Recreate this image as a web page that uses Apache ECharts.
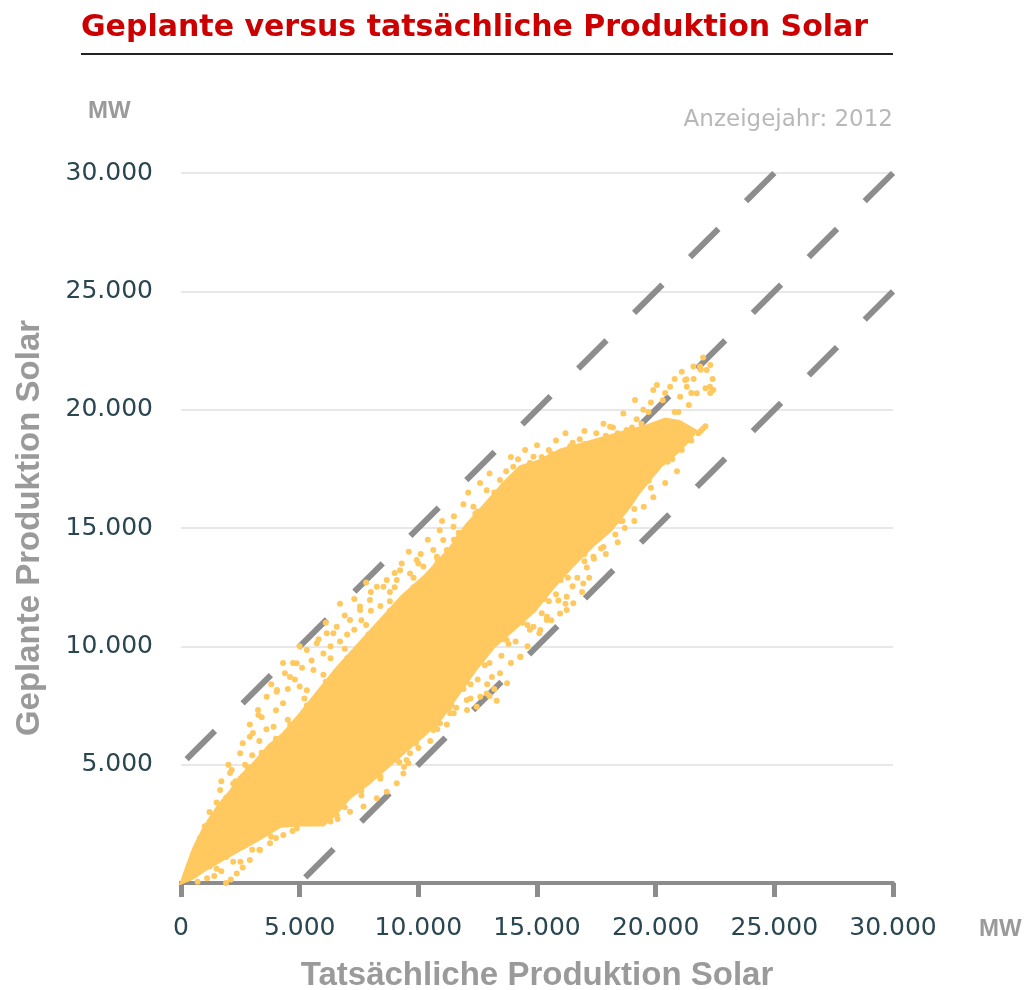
<!DOCTYPE html>
<html><head><meta charset="utf-8">
<script src="https://cdn.jsdelivr.net/npm/echarts@6/dist/echarts.min.js"></script>
<style>html,body{margin:0;padding:0;background:#fff;overflow:hidden}#c{width:1024px;height:990px}</style>
</head><body><div id="c"></div>
<script>
// ---------- texts ----------
const titleText = 'Geplante versus tatsächliche Produktion Solar';
const yearText = 'Anzeigejahr: 2012';
const unitText = 'MW';
const xAxisTitle = 'Tatsächliche Produktion Solar';
const yAxisTitle = 'Geplante Produktion Solar';

// ---------- axes ----------
const axisMin = 0, axisMax = 30000, axisStep = 5000;
const axisLineStart = -4200;           // x axis line extends left of 0
const bandOffsets = [5000, 0, -5000];  // planned = actual + offset

// ---------- data (MW) ----------
// dense core of the cloud (outline: lower edge left->right, upper edge right->left)
const coreOutline = [
  [0,0],[500,200],[1000,550],[1600,900],[2300,1300],[3200,1800],[4200,2400],[5000,2450],[6000,2450],
  [6500,2900],[7100,3600],[7900,4200],[8700,4900],[9500,5600],[10300,6300],[11000,7000],[11700,8000],
  [12400,9000],[13200,10000],[14000,10700],[14900,11500],[15700,12500],[16500,13400],[17400,14300],
  [18100,14900],[18900,15900],[19300,16500],[20200,17600],[20800,18100],[21400,18700],[21700,19100],
  [21000,19500],[20400,19600],[19600,19300],[18800,19100],[17400,18700],[16000,18300],[15000,17800],
  [14300,17600],[13600,16900],[12900,16100],[12000,15100],[11300,14100],[10300,13000],[9300,12100],
  [8300,11000],[7400,10000],[6500,9000],[5700,8000],[4900,7000],[4300,6300],[3700,5800],[3100,5100],
  [2600,4600],[2100,3900],[1600,3300],[1200,2700],[900,2200],[550,1500],[250,700],[60,150]
];
// scattered hours above the core
const upperFringe = [
  [1000,2400],[1650,3930],[2135,4770],[2490,5480],[2900,6180],[3260,7100],[3610,7870],[4030,8080],
  [4380,8860],[4875,9280],[5300,9840],[5720,10130],[6140,10550],[6560,10830],[7120,11110],[7545,11530],
  [7960,11960],[8530,12520],[9090,12800],[9650,13080],[10210,13370],[10780,13790],[11200,14070],
  [2065,4650],[3030,6340],[3245,7310],[4045,8150],[4590,8700],[4720,9300],
  [5300,8140],[5580,9000],[6420,10550],[7540,11680],[8250,12520],[8670,12800],[9230,13220],[9930,13650],
  [10630,14070],[11050,14490],[11480,15050],[12320,15900],[12880,16600],[13440,17030],[14000,17590],[14850,18010],
  [1800,3000],[2400,3900],[3100,4900],[3800,5800],[4500,6900],[5200,7800],[6000,8800],[6900,9900],
  [7800,10900],[8800,11900],[9800,12900],[10800,13700],[11700,14800],[12500,15700],[13300,16500],
  [14200,17900],[15500,18300],[16500,18600],[17500,19000],[1300,1900],[2600,4500],[3900,6600],[5000,8300],
  [6300,9500],[7000,10500],[8000,11500],[9000,12500],[10000,13500],[11500,14500],
  [500,1200],[700,1500],[800,1900],[1100,2100],[1300,2600],[1200,3000],[1600,2800],
  [1500,3400],[1900,3600],[2200,4200],[1700,4300],[2500,4400],[2000,5000],[2700,5000],[3000,5400],
  [2600,5900],[3300,6000],[3600,6500],[2900,6700],[3400,7000],[4000,7300],[4300,7600],
  [3800,8400],[4500,8200],[4800,8600],[5100,9100],[4300,9300],[5500,9400],[6000,9700],
  [5000,10000],[5800,10300],[6300,10000],[6700,10200],[6100,11000],[6900,11300],[7300,10700],[7600,11100],
  [6700,11800],[7300,12000],[8000,12300],[8400,11700],[7800,12700],[8800,12300],[9300,13500],[9000,13100],
  [9600,14000],[10100,13900],[10400,14500],[10900,14900],[11500,15500],[11000,15300],
  [11900,16000],[12100,16500],[12600,16900],[13000,17300],[13700,17400],[13900,18000],[14500,18300],
  [15000,18500],[15800,18700],[16200,19000],[17000,19100],[17800,19400],
  [15200,18000],[15600,18150],[16400,18450],[17000,18550],[17900,18900],[18400,19000],[19000,19250],
  [19400,19400],[14700,17750],[16800,18750],[18200,19250],
  [8800,11500],[9800,12500],[10800,13500],[11700,14600],[12400,15600],[13200,16500],[7900,10500],
  [7000,9500],[6100,8500],[5300,7500],[4600,6700],[4000,6100],[3400,5500],[2800,4900],[2300,4300]
];
// scattered hours at the upper right tip
const tipPoints = [
  [18080,19280],[18780,19140],[18640,19840],[19130,20410],[19480,20000],[19900,20830],[20050,21040],
  [20610,20970],[21030,20550],[20960,19900],[21240,21250],[21310,20970],[21730,20690],[21870,21820],
  [22150,21680],[22290,20970],[22430,20830],[21590,21820],[20300,20400],[19700,19900],
  [21300,21290],[21900,21690],[22300,21890],[21500,20700],[22100,20900],[22300,20700],
  [20700,17900],[21100,18300],[21500,18700],[21900,19100],[22100,19300],[21800,19000],[22000,19200],
  [19200,19600],[19800,20300],[20400,20700],[20800,21300],[21100,21600],[21600,21300],[22000,22200],
  [22400,21300],[21400,20200],[20800,19900]
];
// scattered hours below the core
const lowerFringe = [
  [17375,13790],[16950,12660],[16250,12100],[15970,11390],[15410,11110],[14850,10830],[14290,9560],
  [13720,10270],[13440,8860],[12880,8010],[12460,7450],[12040,7730],[11340,7170],[10910,6750],[10630,6460],
  [14300,9550],[15100,10550],[15900,11940],[16500,12540],[17100,13330],[17700,14130],[18300,14730],[16900,12300],
  [13000,7900],[13200,8200],[12900,8400],[13300,7700],
  [16530,11820],[16250,11530],[15420,11250],[15140,10690],[13740,8440],[12610,7870],[12050,7310],[11490,7170],
  [700,50],[1400,300],[1500,600],[2200,900],[3000,1400],[3800,1950],[6600,2700],[7600,3700],[8400,4400],
  [9200,5100],[10000,5700],[10800,6500],[11400,7500],[12200,8400],[13000,9300],[13800,10100],[14600,10900],
  [15500,11900],[16300,12900],[17000,13600],[17800,14200],[18600,15300],[19100,15800],[19800,16700],
  [10000,6400],[10500,6000],[10800,7000],[11200,6700],[11600,7400],[11900,8200],[12200,7800],[12500,8600],
  [12800,9200],[13100,8700],[13500,9600],[13900,9300],[14100,10200],[14600,10000],[14700,10700],[15200,11400],
  [15600,11100],[15800,12200],[16200,11800],[16700,12900],[17200,12900],[17400,13700],[17900,13900],
  [18400,14400],[18700,15000],[19100,15300],[19500,15900],[19900,16300],[20400,16900],[20900,17400],
  [1100,200],[1700,500],[2500,900],[3300,1400],[4000,1900],[4700,2200],
  [18500,15300],[19700,17000],[20500,17800],[21100,18500],[16000,12800],[17000,13900],[15300,12000],
  [14400,11000],[13600,10300],[12000,8500],
  [6300,2600],[6900,3200],[7600,3900],[8400,4500],[9100,5200],[9900,5900],[10700,6600],[11300,7400],
  [3600,2100],[2700,1600],[1900,1100],[1200,700]
];
// the separate line of points running below the cloud
const lowerTrail = [
  [1900,0],[2100,150],[2350,400],[2600,650],[2900,970],[3330,1390],[3750,1680],[4310,2030],[4880,2310],
  [5440,2520],[6000,2730],[6560,2870],[7120,3010],[7690,3230],[8250,3580],[8670,3860],[9090,4210],
  [9370,4630],[9580,5060],[9650,5480],[9500,5200],[9400,4900]
];

// ---------- style constants ----------
const dotColor = '#ffc960';
const guideColor = '#8d8d8d';
const axisColor = '#8c8c8c';
const labelColor = '#2a4650';
const nameColor = '#9a9a9a';

function fmt(v) {
  return String(v).replace(/\B(?=(\d{3})+(?!\d))/g, '.');
}

function bandLine(o) {
  const top = o >= 0 ? [axisMax - o, axisMax] : [axisMax, axisMax + o];
  const bottom = o >= 0 ? [axisMin, axisMin + o] : [axisMin - o, axisMin];
  return [top, bottom];
}

const chart = echarts.init(document.getElementById('c'), null, {renderer: 'canvas'});

const series = [];
series.push({
  type: 'line', data: [[axisLineStart, 0], [0, 0]], clip: false, symbol: 'none', silent: true,
  lineStyle: {color: axisColor, width: 4}, z: 1
});
bandOffsets.forEach(o => {
  series.push({
    type: 'line', data: bandLine(o), symbol: 'none', silent: true, clip: false,
    lineStyle: {color: guideColor, width: 6, type: [40, 39], cap: 'butt'}, z: 2
  });
});
series.push({
  type: 'custom', coordinateSystem: 'cartesian2d', silent: true, z: 3,
  data: [coreOutline[0]],
  renderItem: function (params, api) {
    const pts = coreOutline.map(p => api.coord(p));
    return {type: 'polygon', shape: {points: pts}, style: {fill: dotColor, stroke: dotColor, lineWidth: 3}};
  }
});
series.push({
  type: 'scatter', silent: true, z: 4, symbol: 'circle', symbolSize: 6,
  itemStyle: {color: dotColor, opacity: 1},
  data: upperFringe.concat(tipPoints, lowerFringe, lowerTrail)
});

chart.setOption({
  animation: false,
  backgroundColor: '#ffffff',
  title: [
    {text: titleText, left: 81, top: 13, padding: 0,
     textStyle: {fontFamily: 'DejaVu Sans', fontWeight: 'bold', fontSize: 30, color: '#cc0000'}},
    {text: yearText, right: 131, top: 109, padding: 0,
     textStyle: {fontFamily: 'DejaVu Sans', fontWeight: 'normal', fontSize: 23, color: '#b8b8b8'}},
    {text: unitText, left: 88, top: 99, padding: 0,
     textStyle: {fontFamily: 'Liberation Sans', fontWeight: 'bold', fontSize: 24, color: nameColor}},
    {text: unitText, left: 979, top: 917, padding: 0,
     textStyle: {fontFamily: 'Liberation Sans', fontWeight: 'bold', fontSize: 24, color: nameColor}}
  ],
  graphic: [
    {type: 'line', shape: {x1: 81, y1: 54, x2: 893, y2: 54}, style: {stroke: '#222222', lineWidth: 2}, silent: true}
  ],
  grid: {left: 181, right: 131, top: 173, bottom: 107, containLabel: false, outerBoundsMode: 'none'},
  xAxis: {
    type: 'value', min: axisMin, max: axisMax, interval: axisStep,
    name: xAxisTitle, nameLocation: 'middle', nameGap: 76,
    nameTextStyle: {fontFamily: 'Liberation Sans', fontWeight: 'bold', fontSize: 33, color: nameColor},
    axisLine: {show: true, lineStyle: {color: axisColor, width: 4}},
    axisTick: {show: true, length: 14, lineStyle: {color: axisColor, width: 5}},
    axisLabel: {fontFamily: 'DejaVu Sans', fontSize: 25, color: labelColor, margin: 33, formatter: fmt},
    splitLine: {show: false}
  },
  yAxis: {
    type: 'value', min: axisMin, max: axisMax, interval: axisStep,
    name: yAxisTitle, nameLocation: 'middle', nameGap: 135, nameRotate: 90,
    nameTextStyle: {fontFamily: 'Liberation Sans', fontWeight: 'bold', fontSize: 33, color: nameColor},
    axisLine: {show: false}, axisTick: {show: false},
    axisLabel: {fontFamily: 'DejaVu Sans', fontSize: 25, color: labelColor, margin: 28,
      formatter: v => v === 0 ? '' : fmt(v)},
    splitLine: {show: true, lineStyle: {color: '#e0e0e0', width: 1.5}}
  },
  series: series
});
</script>
</body></html>
